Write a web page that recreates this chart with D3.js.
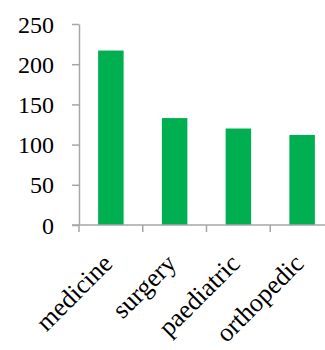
<!DOCTYPE html>
<html>
<head>
<meta charset="utf-8">
<script src="https://cdn.jsdelivr.net/npm/d3@7"></script>
<style>
  body { margin: 0; background: #fff; }
  svg { display: block; }
  text { font-family: "Palatino Linotype", "Book Antiqua", Palatino, "Liberation Serif", serif; fill: #000; }
</style>
</head>
<body>
<div id="chart"></div>
<script>
var categories = ["medicine", "surgery", "paediatric", "orthopedic"];
var counts = [217, 133, 120, 112];
var yTicks = [0, 50, 100, 150, 200, 250];

var width = 325,
    height = 350,
    plotLeft = 79,
    plotRight = 334,
    plotTop = 24,
    plotBottom = 225,
    axisColor = "#a6a6a6";

var svg = d3.select("#chart")
    .append("svg")
    .attr("width", width)
    .attr("height", height);

var x = d3.scaleBand()
    .domain(categories)
    .range([plotLeft, plotRight])
    .paddingInner(0.6)
    .paddingOuter(0.3);

var y = d3.scaleLinear()
    .domain([0, 250])
    .range([plotBottom, plotTop]);

// bars
svg.selectAll(".bar")
    .data(categories)
    .enter().append("rect")
    .attr("class", "bar")
    .attr("x", function (d) { return x(d); })
    .attr("y", function (d, i) { return y(counts[i]); })
    .attr("width", x.bandwidth())
    .attr("height", function (d, i) { return y(0) - y(counts[i]); })
    .style("fill", "#00b050");

// y axis
var yAxis = svg.append("g")
    .attr("transform", "translate(" + plotLeft + ",0)")
    .call(d3.axisLeft(y).tickValues(yTicks).tickSize(7).tickPadding(18).tickSizeOuter(0));
yAxis.attr("font-family", null).attr("font-size", null);
yAxis.select(".domain").attr("stroke", axisColor).attr("stroke-width", 1.5);
yAxis.selectAll(".tick line").attr("stroke", axisColor).attr("stroke-width", 1.5);
yAxis.selectAll(".tick text")
    .style("font-size", "24px")
    .attr("dy", "0.34em");

// x axis line
svg.append("line")
    .attr("x1", plotLeft - 7)
    .attr("x2", width)
    .attr("y1", y(0))
    .attr("y2", y(0))
    .attr("stroke", axisColor)
    .attr("stroke-width", 1.5);

// category boundary ticks
var bounds = categories.map(function (d) { return x(d) - x.step() * x.paddingOuter(); });
svg.selectAll(".xtick")
    .data(bounds)
    .enter().append("line")
    .attr("class", "xtick")
    .attr("x1", function (d) { return d; })
    .attr("x2", function (d) { return d; })
    .attr("y1", y(0))
    .attr("y2", y(0) + 7)
    .attr("stroke", axisColor)
    .attr("stroke-width", 1.5);

// rotated category labels
svg.selectAll(".xlabel")
    .data(categories)
    .enter().append("text")
    .attr("class", "xlabel")
    .attr("text-anchor", "end")
    .style("font-size", "26px")
    .attr("transform", function (d) {
        var cx = x(d) + x.bandwidth() / 2 + 3;
        return "translate(" + cx + "," + (y(0) + 40) + ") rotate(-45)";
    })
    .text(function (d) { return d; });
</script>
</body>
</html>
